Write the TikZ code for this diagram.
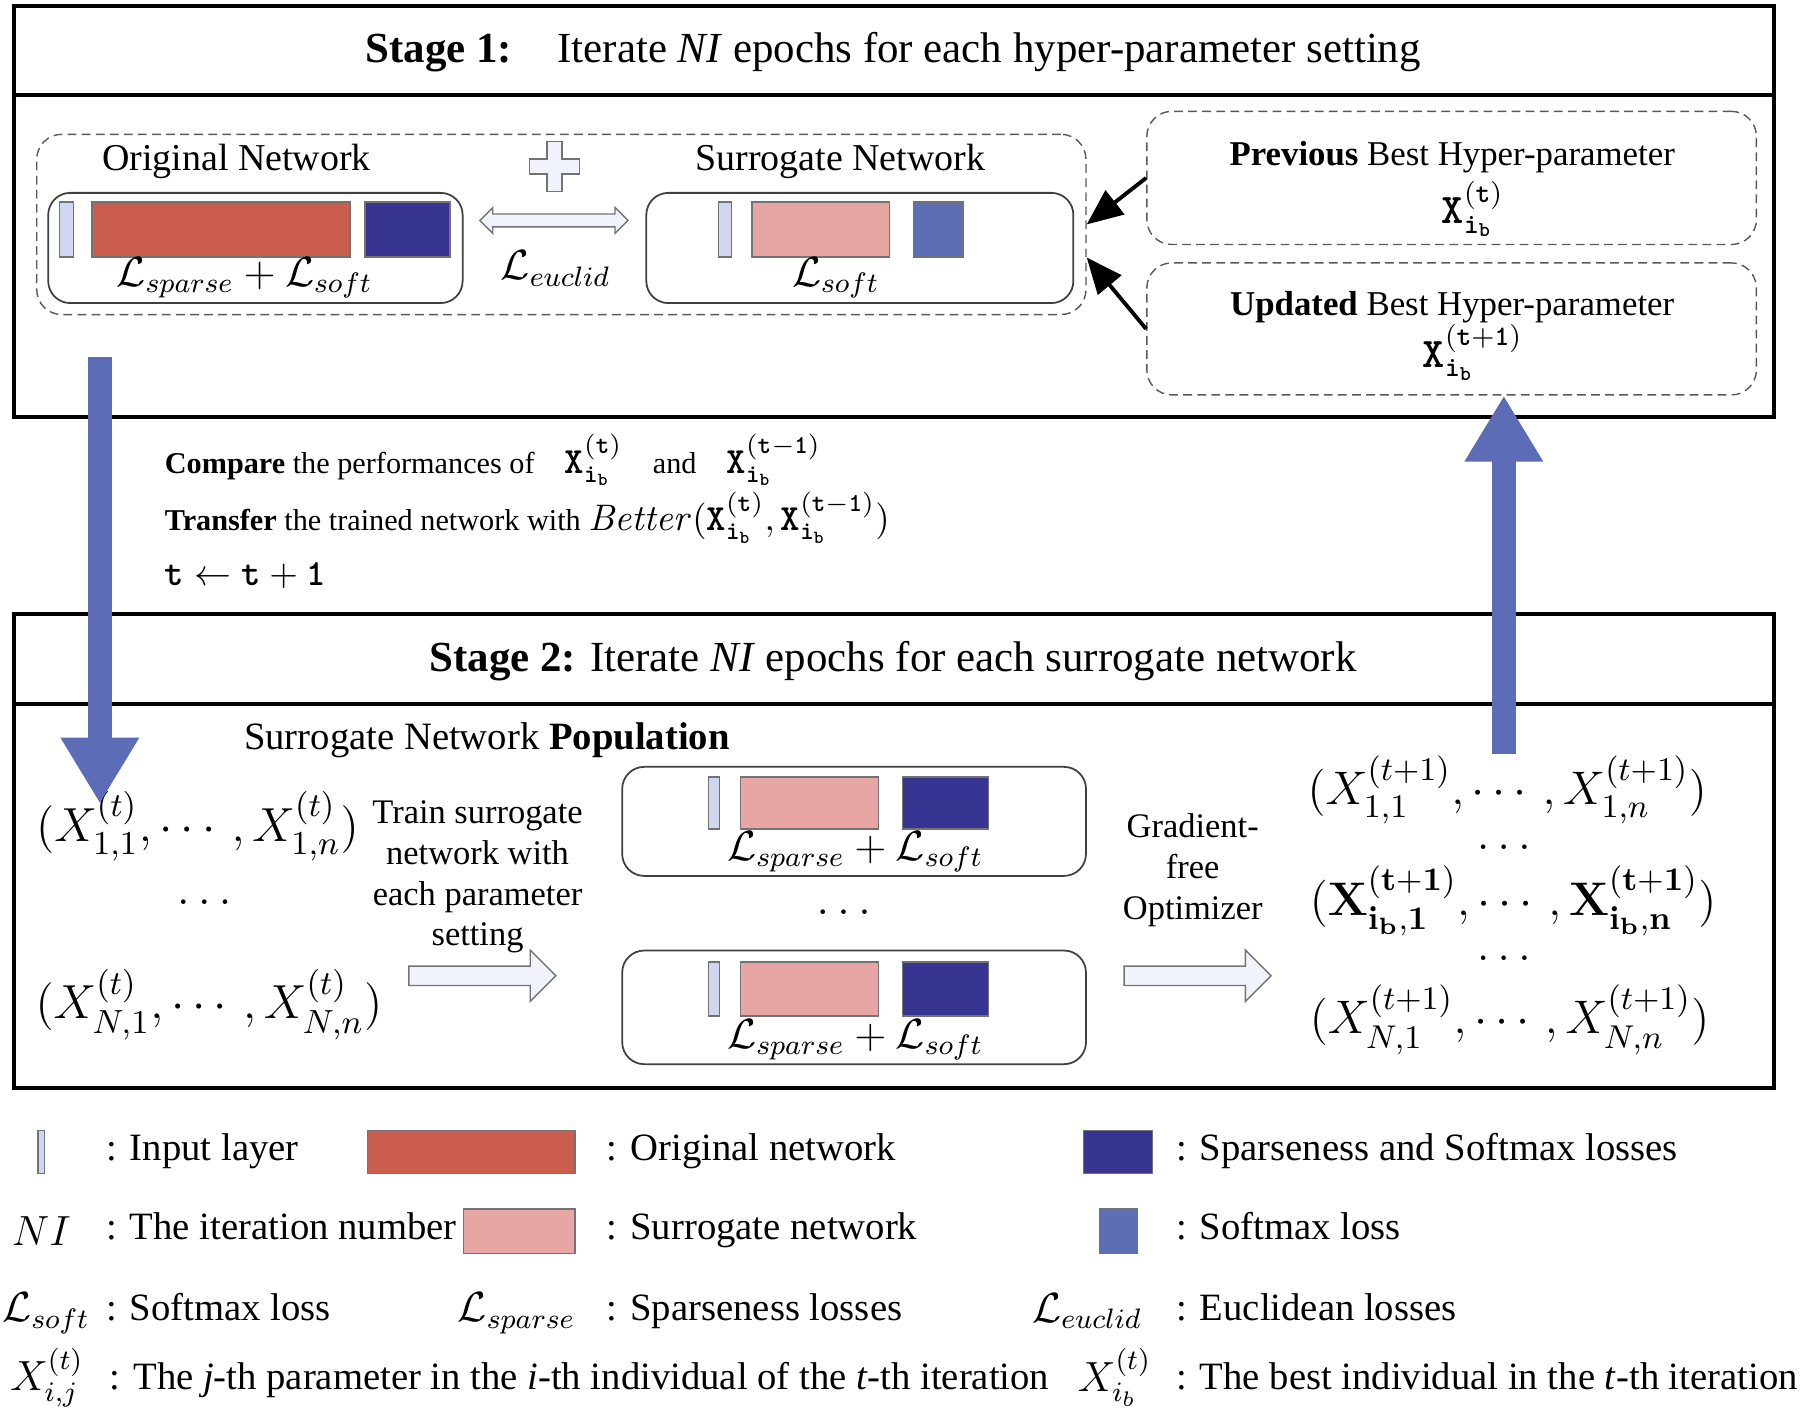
\RequirePackage{fix-cm}
\documentclass[tikz,border=0pt]{standalone}
\usepackage{amsmath}
\usepackage[no-math]{fontspec}
\setmainfont{Liberation Serif}
\usetikzlibrary{arrows.meta,shapes.arrows,fit}

\definecolor{origred}{RGB}{203,93,78}
\definecolor{surrpink}{RGB}{231,166,163}
\definecolor{lossdark}{RGB}{56,52,145}
\definecolor{lossmid}{RGB}{92,110,180}
\definecolor{inlayer}{RGB}{208,214,240}
\definecolor{flowblue}{RGB}{92,108,182}
\definecolor{hollowfill}{RGB}{240,242,252}

\newcommand{\titlefont}{\fontsize{12.2}{14}\selectfont}
\newcommand{\netfont}{\fontsize{10.8}{13}\selectfont}
\newcommand{\hyperfont}{\fontsize{9.9}{12}\selectfont}
\newcommand{\notefont}{\fontsize{8.6}{10.5}\selectfont}
\newcommand{\notemath}{\fontsize{10.5}{12}\selectfont}
\newcommand{\legfont}{\fontsize{11}{13}\selectfont}
\newcommand{\sidefont}{\fontsize{9.8}{11.6}\selectfont}
\newcommand{\lossfont}{\fontsize{12}{14}\selectfont}
\newcommand{\popfont}{\fontsize{13.6}{16}\selectfont}
\newcommand{\newpopfont}{\fontsize{13.4}{16}\selectfont}
\newcommand{\ttb}[1]{\text{\ttfamily\bfseries #1}}
\newcommand{\xb}[1]{\ttb{X}_{\ttb{i}_{\ttb{b}}}^{(#1)}}

\tikzset{
  stagebox/.style={draw, line width=1.2pt},
  netbox/.style={draw=black!75, line width=0.5pt, rounded corners=0.22cm, inner sep=0pt},
  groupbox/.style={draw=black!65, line width=0.4pt, dash pattern=on 2.5pt off 1.5pt, rounded corners=0.25cm, inner sep=0pt},
  blk/.style={draw=black!55, line width=0.4pt, inner sep=0pt},
  txt/.style={inner sep=0pt},
  keytxt/.style={inner sep=0pt, anchor=west, font=\legfont, text height=1.6ex, text depth=0.45ex},
  hollowarrow/.style={single arrow, draw=black!55, fill=hollowfill, inner sep=0.09cm,
    minimum height=1.47cm, single arrow head extend=0.16cm},
  flowarrow/.style={draw=flowblue, line width=0.24cm, -{Triangle[length=0.66cm,width=0.74cm]}},
  pointer/.style={line width=1.1pt, -{Triangle[length=0.36cm,width=0.3cm]}}
}

\begin{document}
\begin{tikzpicture}[x=0.01148cm, y=-0.01148cm]
\useasboundingbox (0,0) rectangle (1568,1232);

% stage 1
\draw[stagebox] (12,5) rectangle (1545,363);
\draw[stagebox] (12,83) -- (1545,83);
\node[txt, font=\titlefont] (stagea) at (778,45) {\textbf{Stage 1:}\hspace{13pt}Iterate \textit{NI} epochs for each hyper-parameter setting};

\node[groupbox, fit={(32,117) (946,274)}] (grp) {};
\node[txt, font=\netfont] (origname) at (206,141) {Original Network};
\node[txt, font=\netfont] (surrname) at (732,141) {Surrogate Network};
\draw[draw=black!55, fill=hollowfill, line width=0.4pt] (476.5,123) -- (489.5,123) -- (489.5,138.5) -- (505,138.5) -- (505,151.5)
  -- (489.5,151.5) -- (489.5,167) -- (476.5,167) -- (476.5,151.5) -- (461,151.5) -- (461,138.5) -- (476.5,138.5) -- cycle;

\node[netbox, fit={(42,168) (403,264)}] (orig) {};
\node[blk, fill=inlayer, fit={(52,176) (64,224)}] (originput) {};
\node[blk, fill=origred, fit={(80,176) (305,224)}] (origbody) {};
\node[blk, fill=lossdark, fit={(318,176) (392,224)}] (origloss) {};
\node[txt, font=\lossfont] (origlbl) at (213,242) {$\mathcal{L}_{sparse}+\mathcal{L}_{soft}$};

\node[netbox, fit={(563,168) (935,264)}] (surr) {};
\node[blk, fill=inlayer, fit={(626,176) (637,224)}] (surrinput) {};
\node[blk, fill=surrpink, fit={(655,176) (775,224)}] (surrbody) {};
\node[blk, fill=lossmid, fit={(796,176) (839,224)}] (surrloss) {};
\node[txt, font=\lossfont] (surrlbl) at (728,242) {$\mathcal{L}_{soft}$};

\node[double arrow, draw=black!55, fill=hollowfill, inner sep=0.057cm, minimum height=1.48cm,
  double arrow head extend=0.065cm] (euclarrow) at (482.5,192) {};
\node[txt, font=\lossfont] (eucllbl) at (484,234) {$\mathcal{L}_{euclid}$};

\node[groupbox, fit={(999,97) (1530,213)}] (prev) {};
\node[txt, font=\hyperfont] (prevtxt) at (1265,137) {\textbf{Previous} Best Hyper-parameter};
\node[txt, font=\lossfont] (prevx) at (1283,182) {$\xb{\ttb{t}}$};
\node[groupbox, fit={(999,229) (1530,344)}] (upd) {};
\node[txt, font=\hyperfont] (updtxt) at (1265,268) {\textbf{Updated} Best Hyper-parameter};
\node[txt, font=\lossfont] (updx) at (1283,307) {$\xb{\ttb{t}+\ttb{1}}$};

\draw[pointer] (prev.west) -- (grp.east);
\draw[pointer] (upd.west) -- ([yshift=-0.33cm]grp.east);

% between the stages
\node[txt, font=\notefont, anchor=west] (cmp) at (143,401) {\textbf{Compare} the performances of\quad {\notemath$\xb{\ttb{t}}$}\quad and\quad {\notemath$\xb{\ttb{t}-\ttb{1}}$}};
\node[txt, font=\notefont, anchor=west] (trf) at (143,451) {\textbf{Transfer} the trained network with {\notemath$\mathit{Better}(\xb{\ttb{t}},\xb{\ttb{t}-\ttb{1}})$}};
\node[txt, font=\notefont, anchor=west] (inc) at (143,501) {{\notemath$\ttb{t}\leftarrow\ttb{t}+\ttb{1}$}};

% stage 2
\draw[stagebox] (12,535) rectangle (1545,948);
\draw[stagebox] (12,613) -- (1545,613);
\node[txt, font=\titlefont] (stageb) at (778,576) {\textbf{Stage 2:} Iterate \textit{NI} epochs for each surrogate network};
\node[txt, font=\legfont, anchor=west] (popname) at (212,645) {Surrogate Network \textbf{Population}};

\node[txt, font=\popfont] (xfirst) at (172,720) {$(X^{(t)}_{1,1},\cdots,X^{(t)}_{1,n})$};
\node[txt, font=\popfont] (xdots) at (178,786) {$\ldots$};
\node[txt, font=\popfont] (xlast) at (182,875) {$(X^{(t)}_{N,1},\cdots,X^{(t)}_{N,n})$};

\node[txt, font=\sidefont, align=center] (trainlbl) at (416,764) {Train surrogate\\network with\\each parameter\\setting};
\node[hollowarrow] (trainarrow) at (416,850) {};

\node[netbox, fit={(542,668) (946,763)}] (popa) {};
\node[blk, fill=inlayer, fit={(617,677) (627,722)}] (popainput) {};
\node[blk, fill=surrpink, fit={(645,677) (765,722)}] (popabody) {};
\node[blk, fill=lossdark, fit={(786,677) (861,722)}] (popaloss) {};
\node[txt, font=\lossfont] (popalbl) at (745,742) {$\mathcal{L}_{sparse}+\mathcal{L}_{soft}$};
\node[txt, font=\popfont] (popdots) at (735,795) {$\ldots$};
\node[netbox, fit={(542,828) (946,927)}] (popb) {};
\node[blk, fill=inlayer, fit={(617,838) (627,885)}] (popbinput) {};
\node[blk, fill=surrpink, fit={(645,838) (765,885)}] (popbbody) {};
\node[blk, fill=lossdark, fit={(786,838) (861,885)}] (popbloss) {};
\node[txt, font=\lossfont] (popblbl) at (745,906) {$\mathcal{L}_{sparse}+\mathcal{L}_{soft}$};

\node[txt, font=\sidefont, align=center] (optlbl) at (1039,758) {Gradient-\\free\\Optimizer};
\node[hollowarrow] (optarrow) at (1039,850) {};

\node[txt, font=\newpopfont] (yfirst) at (1313,688) {$(X^{(t+1)}_{1,1},\cdots,X^{(t+1)}_{1,n})$};
\node[txt, font=\newpopfont] (ydotsa) at (1310,738) {$\ldots$};
\node[txt, font=\newpopfont] (ybest) at (1318,785) {$(\mathbf{X}^{(\mathbf{t+1})}_{\mathbf{i_b,1}},\cdots,\mathbf{X}^{(\mathbf{t+1})}_{\mathbf{i_b,n}})$};
\node[txt, font=\newpopfont] (ydotsb) at (1310,835) {$\ldots$};
\node[txt, font=\newpopfont] (ylast) at (1315,888) {$(X^{(t+1)}_{N,1},\cdots,X^{(t+1)}_{N,n})$};

% flow between the stages
\coordinate (dnstart) at (87,311);
\coordinate (dnend) at (87,700);
\coordinate (upstart) at (1310,657);
\draw[flowarrow] (dnstart) -- (dnend);
\draw[flowarrow] (upstart) -- (upstart |- upd.south);

% legend
\node[blk, fill=inlayer, fit={(33,985) (39,1022)}] (keyinput) {};
\node[keytxt] (keyinputtxt) at (92,1003) {: Input layer};
\node[blk, fill=origred, fit={(320,985) (501,1022)}] (keyorig) {};
\node[keytxt] (keyorigtxt) at (528,1003) {: Original network};
\node[blk, fill=lossdark, fit={(944,985) (1004,1022)}] (keyboth) {};
\node[keytxt] (keybothtxt) at (1024,1003) {: Sparseness and Softmax losses};

\node[txt, font=\lossfont] (keyni) at (36,1072) {$NI$};
\node[keytxt] (keynitxt) at (92,1072) {: The iteration number};
\node[blk, fill=surrpink, fit={(404,1053) (501,1092)}] (keysurr) {};
\node[keytxt] (keysurrtxt) at (528,1072) {: Surrogate network};
\node[blk, fill=lossmid, fit={(958,1053) (991,1092)}] (keysoft) {};
\node[keytxt] (keysofttxt) at (1024,1072) {: Softmax loss};

\node[txt, font=\lossfont] (keylsoft) at (40,1144) {$\mathcal{L}_{soft}$};
\node[keytxt] (keylsofttxt) at (92,1142) {: Softmax loss};
\node[txt, font=\lossfont] (keylsparse) at (450,1144) {$\mathcal{L}_{sparse}$};
\node[keytxt] (keylsparsetxt) at (528,1142) {: Sparseness losses};
\node[txt, font=\lossfont] (keyleuclid) at (947,1142) {$\mathcal{L}_{euclid}$};
\node[keytxt] (keyleuclidtxt) at (1024,1142) {: Euclidean losses};

\node[txt, font=\lossfont] (keyxij) at (41,1200) {$X^{(t)}_{i,j}$};
\node[keytxt] (keyxijtxt) at (95,1202) {: The \textit{j}-th parameter in the \textit{i}-th individual of the \textit{t}-th iteration};
\node[txt, font=\lossfont] (keyxib) at (971,1200) {$X^{(t)}_{i_b}$};
\node[keytxt] (keyxibtxt) at (1024,1202) {: The best individual in the \textit{t}-th iteration};
\end{tikzpicture}
\end{document}
